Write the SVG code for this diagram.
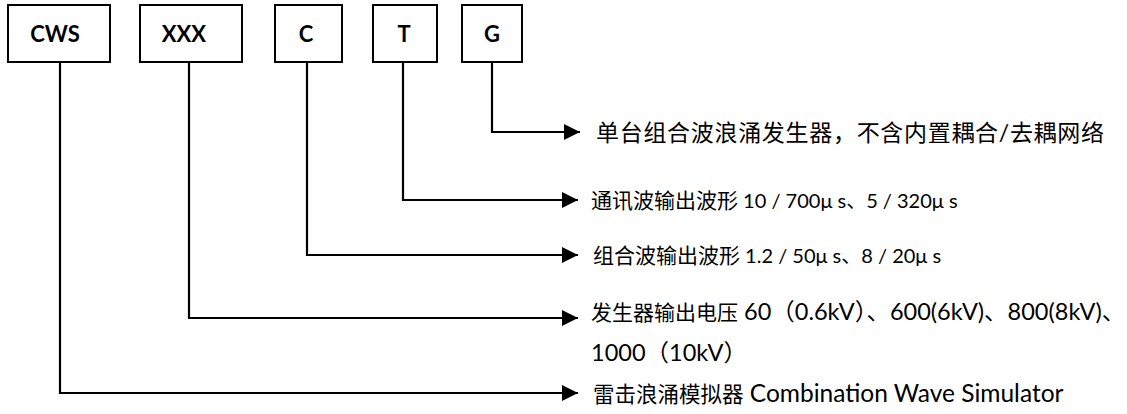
<svg xmlns="http://www.w3.org/2000/svg" width="1127" height="414" viewBox="0 0 1127 414">
<defs>
<style>
.box{fill:#fff;stroke:#000;stroke-width:2}
.lbl{font-family:Lato,"Liberation Sans","Noto Sans CJK SC",sans-serif;font-weight:bold;font-size:22px;fill:#000;text-anchor:middle}
.conn{fill:none;stroke:#000;stroke-width:2.2}
.txt{font-family:Lato,"Noto Sans CJK SC",sans-serif;font-size:20px;fill:#000}
.lat{font-size:23.5px}
.cjk{font-size:21px}
</style>
<marker id="arr" markerUnits="userSpaceOnUse" markerWidth="17" markerHeight="17" refX="16" refY="8" orient="auto">
<path d="M0,0 L16,8 L0,16 Z" fill="#000"/>
</marker>
</defs>
<rect width="1127" height="414" fill="#fff"/>
<g id="node-cws"><rect class="box" x="8" y="5" width="102" height="57"/><text class="lbl" x="55" y="42">CWS</text></g>
<g id="node-xxx"><rect class="box" x="140" y="5" width="102" height="57"/><text class="lbl" x="184" y="42">XXX</text></g>
<g id="node-c"><rect class="box" x="275" y="5" width="67" height="57"/><text class="lbl" x="306" y="42">C</text></g>
<g id="node-t"><rect class="box" x="373" y="5" width="64" height="57"/><text class="lbl" x="404" y="42">T</text></g>
<g id="node-g"><rect class="box" x="462" y="5" width="60" height="57"/><text class="lbl" x="492" y="42">G</text></g>
<g id="connectors">
<polyline class="conn" points="492,62 492,132 580,132" marker-end="url(#arr)"/>
<polyline class="conn" points="403,62 403,200 578,200" marker-end="url(#arr)"/>
<polyline class="conn" points="307,62 307,255 578,255" marker-end="url(#arr)"/>
<polyline class="conn" points="189,62 189,318 578,318" marker-end="url(#arr)"/>
<polyline class="conn" points="60,62 60,393 578,393" marker-end="url(#arr)"/>
</g>
<g id="labels">
<text class="txt" x="596" y="141" style="font-size:23px" textLength="508" lengthAdjust="spacing">单台组合波浪涌发生器，不含内置耦合/去耦网络</text>
<text class="txt" x="591" y="208"><tspan class="cjk">通讯波输出波形</tspan> 10 / 700μ s、5 / 320μ s</text>
<text class="txt" x="593" y="263"><tspan class="cjk">组合波输出波形</tspan> 1.2 / 50μ s、8 / 20μ s</text>
<text class="txt cjk" x="591" y="320">发生器输出电压<tspan class="lat"> 60（0.6kV）、600(6kV)、800(8kV)、</tspan></text>
<text class="txt lat" x="591" y="361">1000（10kV）</text>
<text class="txt" x="593" y="402" style="font-size:21.5px">雷击浪涌模拟器<tspan style="font-size:24.5px">  Combination Wave Simulator</tspan></text>
</g>
</svg>
